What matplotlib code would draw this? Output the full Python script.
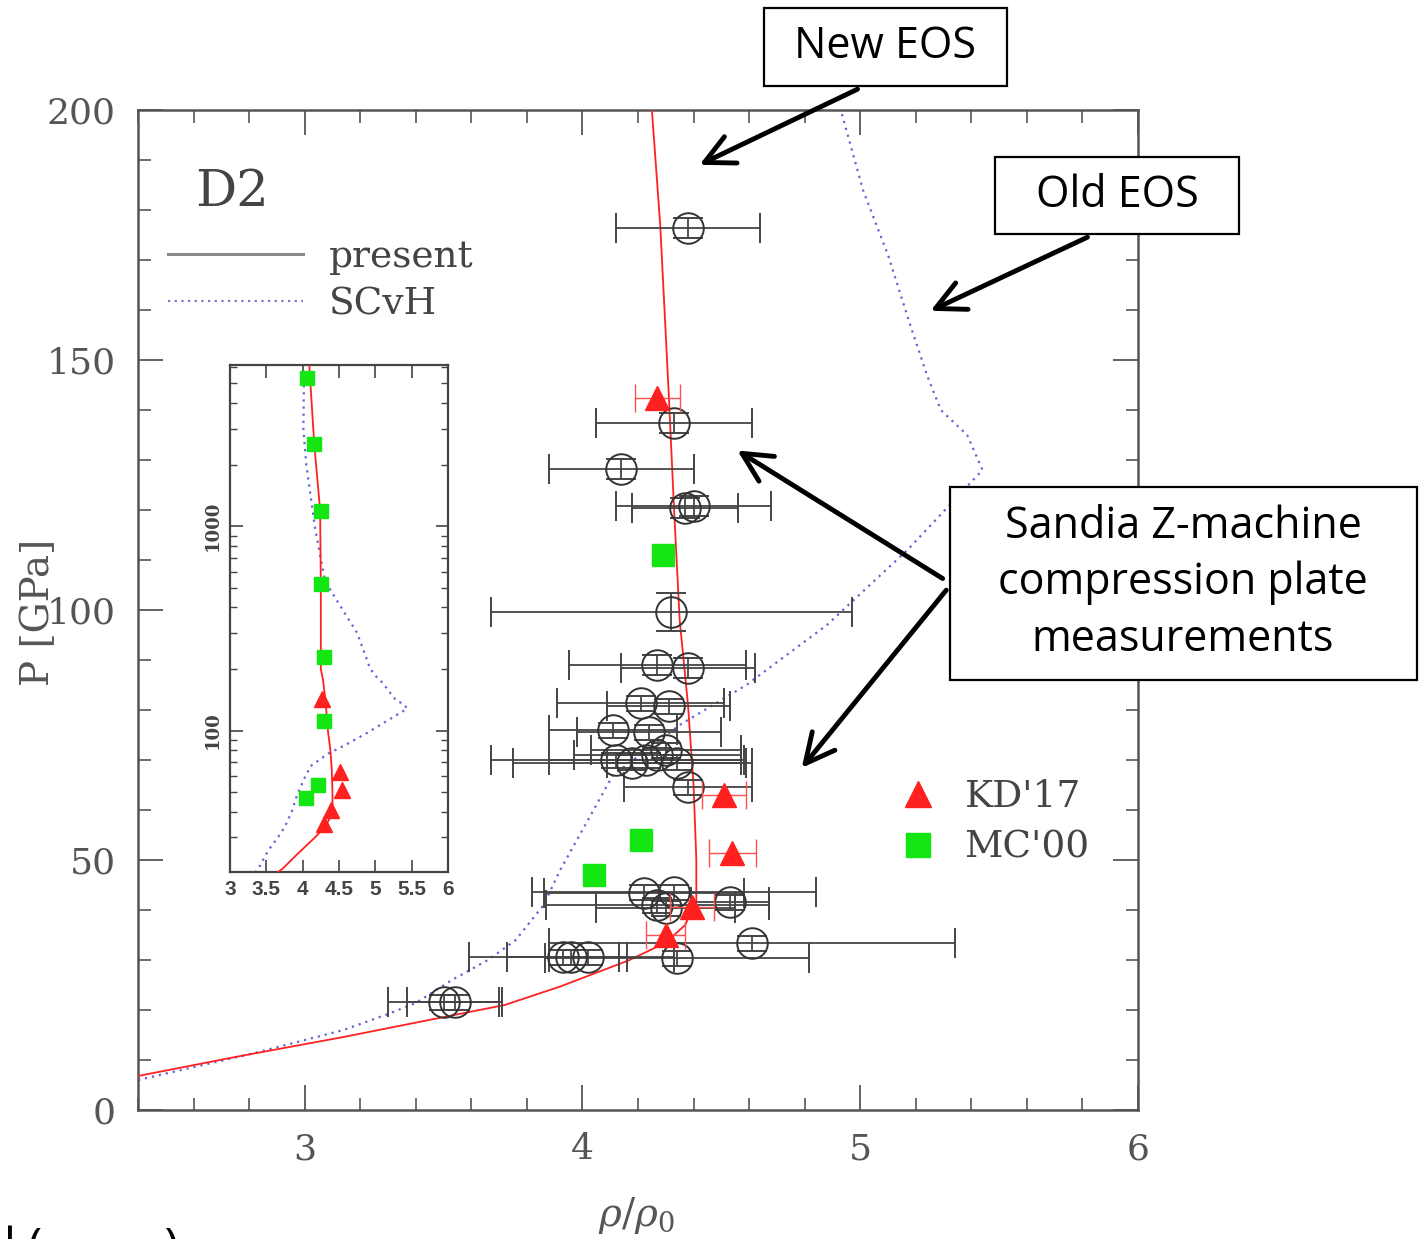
import matplotlib.pyplot as plt
from matplotlib.lines import Line2D
from matplotlib.patches import Rectangle, FancyArrowPatch
from matplotlib.ticker import MultipleLocator, FuncFormatter

W, H = 1422, 1239

# "present" EOS (red solid line)
present_x = [2.40, 2.75, 3.14, 3.52, 3.72, 3.92, 4.17, 4.30, 4.37, 4.41, 4.41,
             4.40, 4.38, 4.35, 4.33, 4.31, 4.28, 4.25]
present_p = [6.8, 10.6, 14.6, 18.8, 21.0, 24.7, 30.0, 33.5, 37.0, 42.0, 50.0,
             65.0, 81.0, 98.0, 120.0, 144.0, 177.0, 200.0]
# continuation above 200 GPa (only seen in the inset)
present_x_hi = [4.25, 4.25, 4.24, 4.16, 4.09]
present_p_hi = [300, 520, 1200, 2500, 6200]

# SCvH EOS (blue dotted line)
scvh_x = [2.40, 2.82, 3.14, 3.31, 3.40, 3.53, 3.66, 3.76, 3.86, 3.92, 4.03,
          4.11, 4.35, 4.59, 4.88, 5.17, 5.44, 5.385, 5.29, 5.24, 5.18, 5.10,
          5.01, 4.93]
scvh_p = [6.0, 11.4, 16.0, 19.4, 21.4, 26.0, 30.0, 34.0, 41.0, 48.0, 59.0,
          67.0, 77.0, 85.0, 97.0, 112.0, 128.0, 135.0, 140.0, 147.0, 157.0,
          171.0, 184.0, 200.0]
scvh_x_hi = [4.75, 4.31, 4.17, 4.05, 4.01, 4.02]
scvh_p_hi = [300, 535, 980, 2000, 3000, 6200]

# Sandia Z-machine points (open circles)
z_x = [4.38, 4.33, 4.14, 4.37, 4.40, 4.32, 4.27, 4.38, 4.21, 4.31, 4.11, 4.24,
       4.12, 4.18, 4.23, 4.27, 4.30, 4.34, 4.38, 4.22, 4.33, 4.27, 4.30, 4.53,
       4.61, 4.34, 3.93, 3.96, 4.02, 3.50, 3.54]
z_p = [176.4, 137.4, 128.2, 120.4, 120.8, 99.6, 89.0, 88.4, 81.4, 80.8, 76.0,
       75.6, 70.0, 69.5, 70.0, 71.0, 72.0, 69.5, 64.6, 43.5, 43.6, 41.0, 40.4,
       41.6, 33.4, 30.4, 30.6, 30.6, 30.6, 21.6, 21.6]
z_xerr = [0.26, 0.28, 0.26, 0.19, 0.28, 0.65, 0.32, 0.24, 0.30, 0.22, 0.23,
          0.26, 0.45, 0.43, 0.35, 0.30, 0.27, 0.25, 0.23, 0.36, 0.51, 0.40,
          0.25, 0.14, 0.73, 0.475, 0.20, 0.37, 0.14, 0.20, 0.17]
z_yerr = [2.0, 2.0, 2.0, 2.0, 2.0, 3.8, 2.0, 2.0, 1.5, 1.5, 1.5, 1.5, 1.5, 1.5,
          1.5, 1.5, 1.5, 1.5, 1.5, 1.5, 1.5, 1.5, 1.5, 1.5, 1.5, 1.5, 1.5,
          1.5, 1.5, 1.5, 1.5]

# KD'17 (red triangles)
kd_x = [4.27, 4.51, 4.54, 4.395, 4.30]
kd_p = [142.4, 63.0, 51.4, 40.6, 35.0]
kd_xerr = [0.08, 0.08, 0.085, 0.08, 0.07]

# MC'00 (green squares)
mc_x = [4.04, 4.21, 4.29, 4.29, 4.25, 4.25, 4.15, 4.06]
mc_p = [47, 54, 111, 228, 523, 1191, 2535, 5300]

RED = '#ff2020'
BLUE = '#6464d2'
GREEN = '#14e614'
GREY = '#555555'

plt.rcParams['font.family'] = 'DejaVu Serif'
plt.rcParams['mathtext.fontset'] = 'dejavuserif'

fig = plt.figure(figsize=(W / 100, H / 100), dpi=100)

# ---- main panel
ax = fig.add_axes([138 / W, 1 - 1110 / H, 1000 / W, 1000 / H])
ax.plot(present_x, present_p, color=RED, lw=1.3, zorder=3)
ax.plot(scvh_x, scvh_p, color=BLUE, lw=1.6, ls=(0, (1, 2.2)), zorder=2)
ax.errorbar(z_x, z_p, xerr=z_xerr, yerr=z_yerr, fmt='o', mfc='none',
            mec='#333333', ms=22, mew=1.4, ecolor='#444444', elinewidth=1.3,
            capsize=11, capthick=1.3, zorder=4)
ax.errorbar(kd_x, kd_p, xerr=kd_xerr, fmt='^', color=RED, ms=17,
            ecolor='#ff5050', elinewidth=1.0, capsize=10, capthick=1.0,
            zorder=5)
ax.plot(mc_x, mc_p, 's', color=GREEN, ms=16, ls='none', zorder=5)

ax.set_xlim(2.4, 6.0)
ax.set_ylim(0, 200)
ax.xaxis.set_major_locator(MultipleLocator(1))
ax.xaxis.set_minor_locator(MultipleLocator(0.2))
ax.yaxis.set_major_locator(MultipleLocator(50))
ax.yaxis.set_minor_locator(MultipleLocator(10))
ax.tick_params(which='both', direction='in', top=True, right=True,
               colors=GREY, labelcolor=GREY)
ax.tick_params(which='major', length=18, width=1.3, labelsize=26, pad=16)
ax.tick_params(which='minor', length=9, width=1.2)
for s in ax.spines.values():
    s.set_linewidth(1.8)
    s.set_color(GREY)

ax.set_xlabel(r'$\rho/\rho_0$', fontsize=28, color=GREY)
ax.xaxis.set_label_coords(0.498, -0.085)
ax.set_ylabel('P [GPa]', fontsize=28, color=GREY)
ax.yaxis.set_label_coords(-0.081, 0.498)

ax.text(0.057, 0.918, 'D2', transform=ax.transAxes, fontsize=37,
        color='#444444', va='center', ha='left')
h_present = Line2D([], [], color='#888888', lw=2.2)
h_scvh = Line2D([], [], color='#7a7ac8', lw=1.6, ls=(0, (1, 2)))
leg1 = ax.legend([h_present, h_scvh], ['present', 'SCvH'], loc='upper left',
                 bbox_to_anchor=(0.03, 0.871), frameon=False, fontsize=27,
                 handlelength=3.6, handletextpad=0.7, labelspacing=0.3,
                 borderpad=0, borderaxespad=0)
for t in leg1.get_texts():
    t.set_color('#444444')
ax.add_artist(leg1)

h_kd = Line2D([], [], marker='^', ls='none', color=RED, ms=19)
h_mc = Line2D([], [], marker='s', ls='none', color=GREEN, ms=17)
leg2 = ax.legend([h_kd, h_mc], ["KD'17", "MC'00"], loc='upper left',
                 bbox_to_anchor=(0.761, 0.331), frameon=False, fontsize=27,
                 handlelength=1.0, handletextpad=0.75, labelspacing=0.39,
                 borderpad=0, borderaxespad=0)
for t in leg2.get_texts():
    t.set_color('#444444')

# ---- inset
ins = fig.add_axes([230 / W, 1 - 872 / H, 218 / W, 507 / H])
ins.set_yscale('log')
ins.plot(present_x + present_x_hi, present_p + present_p_hi, color=RED,
         lw=1.3, zorder=3)
ins.plot(scvh_x + scvh_x_hi, scvh_p + scvh_p_hi, color=BLUE, lw=1.6,
         ls=(0, (1, 2.2)), zorder=2)
ins.plot(kd_x, kd_p, '^', color=RED, ms=11, ls='none', zorder=4)
ins.plot(mc_x, mc_p, 's', color=GREEN, ms=10, ls='none', zorder=4)
ins.set_xlim(3, 6)
ins.set_ylim(20.3, 6150)
ins.xaxis.set_major_locator(MultipleLocator(0.5))
ins.xaxis.set_major_formatter(FuncFormatter(lambda v, _: f'{v:g}'))
ins.yaxis.set_major_formatter(FuncFormatter(lambda v, _: f'{v:g}'))
ins.tick_params(which='both', direction='in', top=True, right=True,
                colors='#444444')
ins.tick_params(which='major', length=9, width=1.2)
ins.tick_params(which='minor', length=5, width=1.0)
ins.tick_params(axis='x', labelsize=15, pad=6)
ins.tick_params(axis='y', labelsize=13, pad=6, labelrotation=90)
for lab in ins.get_xticklabels():
    lab.set_family('Liberation Sans')
    lab.set_fontweight('bold')
for lab in ins.get_yticklabels():
    lab.set_fontweight('bold')
    lab.set_va('center')
for s in ins.spines.values():
    s.set_linewidth(1.6)
    s.set_color('#444444')


# ---- call-out boxes and arrows (pixel layout of the slide)
def fxy(x, y):
    return x / W, 1 - y / H


def box(x0, y0, x1, y1):
    fig.patches.append(Rectangle(fxy(x0, y1), (x1 - x0) / W, (y1 - y0) / H,
                                 transform=fig.transFigure, facecolor='white',
                                 edgecolor='black', lw=1.6, zorder=5))


def arrow(p0, p1):
    fig.patches.append(FancyArrowPatch(fxy(*p0), fxy(*p1),
                                       transform=fig.transFigure,
                                       arrowstyle='->,head_length=0.7,head_width=0.35',
                                       mutation_scale=30, lw=3.5,
                                       color='black', zorder=6))


box(764, 8, 1007, 86)
fig.text(*fxy(885.5, 47), 'New EOS', family='Open Sans', fontsize=31,
         ha='center', va='center', zorder=7)
box(995, 157, 1239, 234)
fig.text(*fxy(1117, 196), 'Old EOS', family='Open Sans', fontsize=31,
         ha='center', va='center', zorder=7)
box(950, 487, 1417, 680)
for yy, line in zip([527, 583, 640],
                    ['Sandia Z-machine', 'compression plate', 'measurements']):
    fig.text(*fxy(1183, yy), line, family='Open Sans', fontsize=31,
             ha='center', va='center', zorder=7)

arrow((860, 88), (697, 166))
arrow((1090, 236), (928, 312))
arrow((945, 580), (735, 449))
arrow((948, 588), (800, 770))

# cropped text at the very bottom edge of the slide
fig.text(*fxy(4, 1262), 'l (          )', family='Open Sans', fontsize=34,
         ha='left', va='baseline')

fig.savefig('out.png', dpi=100)
